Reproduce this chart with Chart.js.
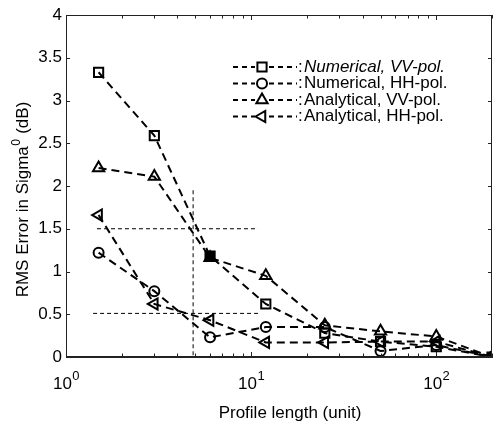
<!DOCTYPE html>
<html><head><meta charset="utf-8">
<script src="https://cdn.jsdelivr.net/npm/chart.js@4"></script>
<style>html,body{margin:0;padding:0;background:#fff}canvas{display:block}</style>
</head><body>
<canvas id="c" width="496" height="423"></canvas>
<script>
const profileLengths = [1.5, 3, 6, 12, 25, 50, 100, 200];
const numericalVV  = [3.33, 2.59, 1.18, 0.62, 0.28, 0.18, 0.12, 0.0];
const numericalHH  = [1.22, 0.77, 0.23, 0.35, 0.35, 0.07, 0.14, 0.0];
const analyticalVV = [2.21, 2.11, 1.16, 0.95, 0.37, 0.30, 0.24, 0.0];
const analyticalHH = [1.66, 0.62, 0.43, 0.17, 0.17, 0.18, 0.18, 0.0];
const guideUpperX = [1.47, 10.9], guideUpperY = [1.5, 1.5];
const guideLowerX = [1.40, 10.9], guideLowerY = [0.51, 0.51];
const guideVertX = [4.86, 4.86], guideVertY = [1.95, 0];
const xTickValues = [1,2,3,4,5,6,7,8,9,10,20,30,40,50,60,70,80,90,100,200];
const xTickExponents = {1:'0', 10:'1', 100:'2'};
const yTickValues = [0,0.5,1,1.5,2,2.5,3,3.5,4];
const seriesNames = ['Numerical, VV-pol.', 'Numerical, HH-pol.', 'Analytical, VV-pol.', 'Analytical, HH-pol.'];
const xTitle = 'Profile length (unit)';
const yTitleMain = 'RMS Error in Sigma', yTitleSup = '0', yTitleUnit = ' (dB)';

const FONT = 'Liberation Sans, Arial, sans-serif';
const FS = 17;
const pts = (xs, ys) => xs.map((x, i) => ({x: x, y: ys[i]}));

function series(label, ys, style, rot, radius, fills) {
  return {
    label: label, data: pts(profileLengths, ys),
    borderColor: '#000', borderWidth: 2, borderDash: [8, 5],
    pointStyle: style, pointRotation: rot, pointRadius: radius,
    pointBorderWidth: 2, pointBorderColor: '#000',
    pointBackgroundColor: fills || 'rgba(0,0,0,0)', fill: false, tension: 0
  };
}
function guide(xs, ys) {
  return { label: '', data: pts(xs, ys), borderColor: '#000', borderWidth: 1,
    borderDash: [4, 3], pointRadius: 0, fill: false };
}

const markerSpecs = [
  {style: 'rect', rot: 0, r: 6.5},
  {style: 'circle', rot: 0, r: 5},
  {style: 'triangle', rot: 0, r: 6.5},
  {style: 'triangle', rot: -90, r: 6.5}
];

function drawMarker(ctx, spec, x, y) {
  ctx.save();
  ctx.setLineDash([]);
  ctx.lineWidth = 2; ctx.strokeStyle = '#000';
  ctx.beginPath();
  if (spec.style === 'rect') {
    const s = Math.SQRT1_2 * spec.r;
    ctx.rect(x - s, y - s, 2 * s, 2 * s);
  } else if (spec.style === 'circle') {
    ctx.arc(x, y, spec.r, 0, Math.PI * 2);
  } else {
    const a0 = (spec.rot - 90) * Math.PI / 180;
    for (let k = 0; k < 3; k++) {
      const a = a0 + k * 2 * Math.PI / 3;
      const px = x + Math.cos(a) * spec.r, py = y + Math.sin(a) * spec.r;
      if (k === 0) ctx.moveTo(px, py); else ctx.lineTo(px, py);
    }
    ctx.closePath();
  }
  ctx.stroke();
  ctx.restore();
}

const boxTicksPlugin = {
  id: 'boxTicks',
  afterDatasetsDraw(chart) {
    const {ctx, chartArea: a, scales: {x, y}} = chart;
    ctx.save();
    ctx.strokeStyle = '#222'; ctx.lineWidth = 1; ctx.setLineDash([]);
    ctx.strokeRect(a.left + 0.5, a.top + 0.5, a.right - a.left - 1, a.bottom - a.top - 1);
    ctx.beginPath();
    xTickValues.forEach(v => {
      const px = Math.round(x.getPixelForValue(v)) + 0.5;
      const len = xTickExponents[v] ? 5 : 3.5;
      ctx.moveTo(px, a.bottom); ctx.lineTo(px, a.bottom - len);
      ctx.moveTo(px, a.top); ctx.lineTo(px, a.top + len);
    });
    yTickValues.forEach(v => {
      const py = Math.round(y.getPixelForValue(v)) + 0.5;
      ctx.moveTo(a.left, py); ctx.lineTo(a.left + 4, py);
      ctx.moveTo(a.right, py); ctx.lineTo(a.right - 4, py);
    });
    ctx.stroke();
    ctx.fillStyle = '#000';
    ctx.textBaseline = 'middle';
    // x tick labels: 10 with raised exponent
    Object.keys(xTickExponents).forEach(k => {
      const v = Number(k);
      const px = x.getPixelForValue(v);
      ctx.font = FS + 'px ' + FONT;
      const wb = ctx.measureText('10').width;
      ctx.font = '13px ' + FONT;
      const we = ctx.measureText(xTickExponents[k]).width;
      const left = px - (wb + we) / 2;
      ctx.textAlign = 'left';
      ctx.font = FS + 'px ' + FONT;
      ctx.fillText('10', left, a.bottom + 27);
      ctx.font = '13px ' + FONT;
      ctx.fillText(xTickExponents[k], left + wb + 0.5, a.bottom + 19);
    });
    // axis titles
    ctx.font = FS + 'px ' + FONT;
    ctx.textAlign = 'center';
    ctx.fillText(xTitle, 290, 413);
    ctx.save();
    ctx.translate(22, 200);
    ctx.rotate(-Math.PI / 2);
    ctx.font = FS + 'px ' + FONT;
    const w1 = ctx.measureText(yTitleMain).width;
    ctx.font = '12px ' + FONT;
    const w2 = ctx.measureText(yTitleSup).width;
    ctx.font = FS + 'px ' + FONT;
    const w3 = ctx.measureText(yTitleUnit).width;
    const start = -(w1 + w2 + w3) / 2;
    ctx.textAlign = 'left';
    ctx.fillText(yTitleMain, start, 1);
    ctx.font = '12px ' + FONT;
    ctx.fillText(yTitleSup, start + w1 + 0.5, -5);
    ctx.font = FS + 'px ' + FONT;
    ctx.fillText(yTitleUnit, start + w1 + w2 + 1, 1);
    ctx.restore();
    ctx.restore();
  },
  afterDraw(chart) {
    const ctx = chart.ctx;
    const rows = [67, 83.5, 100, 116.5];
    ctx.save();
    rows.forEach((ry, i) => {
      ctx.strokeStyle = '#000'; ctx.lineWidth = 2; ctx.setLineDash([5, 4]);
      ctx.beginPath(); ctx.moveTo(233, ry); ctx.lineTo(297, ry); ctx.stroke();
      ctx.fillStyle = '#fff';
      ctx.fillRect(255, ry - 6, 14, 12);
      drawMarker(ctx, markerSpecs[i], 262, ry);
      ctx.fillStyle = '#000';
      ctx.textBaseline = 'middle'; ctx.textAlign = 'left';
      ctx.font = FS + 'px ' + FONT;
      ctx.fillText(':', 298, ry);
      ctx.font = (i === 0 ? 'italic ' : '') + FS + 'px ' + FONT;
      ctx.fillText(seriesNames[i], 304, ry);
    });
    ctx.restore();
  }
};

new Chart(document.getElementById('c'), {
  type: 'line',
  data: {
    datasets: [
      guide(guideUpperX, guideUpperY),
      guide(guideLowerX, guideLowerY),
      guide(guideVertX, guideVertY),
      series(seriesNames[0], numericalVV, 'rect', 0, 6.5,
        ['rgba(0,0,0,0)','rgba(0,0,0,0)','#000','rgba(0,0,0,0)','rgba(0,0,0,0)','rgba(0,0,0,0)','rgba(0,0,0,0)','#000']),
      series(seriesNames[1], numericalHH, 'circle', 0, 5),
      series(seriesNames[2], analyticalVV, 'triangle', 0, 6.5),
      series(seriesNames[3], analyticalHH, 'triangle', -90, 6.5)
    ]
  },
  options: {
    responsive: false, animation: false, devicePixelRatio: 1,
    layout: {autoPadding: false, padding: {top: 15, right: 4, left: 0, bottom: 0}},
    plugins: {legend: {display: false}, tooltip: {enabled: false}, title: {display: false}},
    scales: {
      x: {
        type: 'logarithmic', min: 1, max: 200,
        afterBuildTicks: s => { s.ticks = xTickValues.map(v => ({value: v})); },
        afterFit: s => { s.height = 66; s.paddingLeft = 0; s.paddingRight = 0; },
        grid: {display: false, drawTicks: false},
        border: {display: true, color: '#222'},
        ticks: {autoSkip: false, maxRotation: 0, minRotation: 0, padding: 14, color: '#000',
          font: {family: FONT, size: FS},
          callback: () => ''},
        title: {display: false}
      },
      y: {
        min: 0, max: 4,
        afterBuildTicks: s => { s.ticks = yTickValues.map(v => ({value: v})); },
        afterFit: s => { s.width = 66; s.paddingTop = 0; s.paddingBottom = 0; },
        grid: {display: false, drawTicks: false},
        border: {display: true, color: '#222'},
        ticks: {padding: 4, color: '#000', font: {family: FONT, size: FS},
          callback: v => String(v)},
        title: {display: false}
      }
    }
  },
  plugins: [boxTicksPlugin]
});
</script>
</body></html>
